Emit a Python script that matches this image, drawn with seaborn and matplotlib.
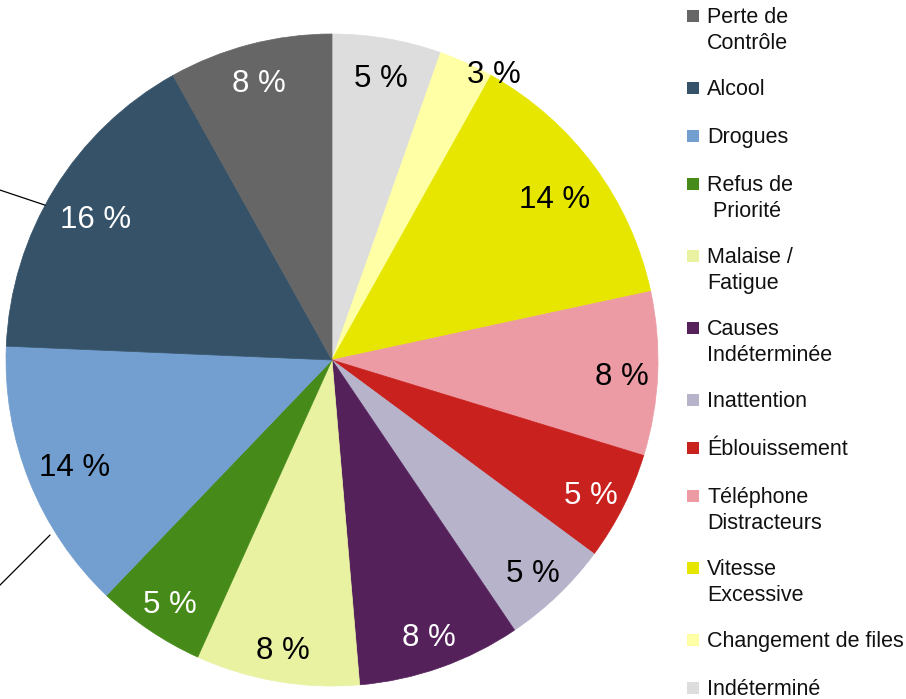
import matplotlib
matplotlib.use("Agg")
import matplotlib.pyplot as plt
from matplotlib.patches import Rectangle
import seaborn as sns
import numpy as np

sns.set_style("white")
plt.rcParams['font.family'] = ['Liberation Sans', 'DejaVu Sans']

# Data in clockwise order starting from 12 o'clock
categories = ["Indéterminé", "Changement de files", "Vitesse\nExcessive",
              "Téléphone\nDistracteurs", "Éblouissement", "Inattention",
              "Causes\nIndéterminée", "Malaise /\nFatigue", "Refus de\n Priorité",
              "Drogues", "Alcool", "Perte de\nContrôle"]
counts = [2, 1, 5, 3, 2, 2, 3, 3, 2, 5, 6, 3]
colors = ["#dddddd", "#ffffa6", "#e6e600", "#ec9ba4", "#c9211e", "#b7b3ca",
          "#55215b", "#e8f2a1", "#468a1a", "#729fcf", "#355269", "#666666"]
white_text = ["#c9211e", "#55215b", "#468a1a", "#355269", "#666666"]

W, H = 906, 699
fig = plt.figure(figsize=(W / 100, H / 100), dpi=100)
ax = fig.add_axes([6 / W, 13 / H, 652 / W, 652 / H])

wedges, texts, autotexts = ax.pie(
    counts, colors=colors, startangle=90, counterclock=False,
    autopct=lambda p: f"{p:.0f} %", pctdistance=0.87,
    wedgeprops=dict(linewidth=0, antialiased=True),
    textprops=dict(fontsize=22.5))
ax.set_xlim(-1, 1)
ax.set_ylim(-1, 1)
ax.set_aspect('equal')
ax.axis('off')

dy = -0.015
for i, (w, t, c) in enumerate(zip(wedges, autotexts, colors)):
    w.set_edgecolor(c)
    w.set_linewidth(0.5)
    t.set_color("white" if c in white_text else "black")
    if i == 1:
        # small slice: label pushed outward onto its clockwise boundary
        ang = np.deg2rad(min(w.theta1, w.theta2))
        r = 1.02
    else:
        ang = np.deg2rad((w.theta1 + w.theta2) / 2)
        r = 0.85 if len(t.get_text()) > 3 else 0.89
    t.set_position((r * np.cos(ang), r * np.sin(ang) + dy))

# leader lines at the left edge
ax.plot([-0.88, -1.2], [0.475, 0.582], color="black", lw=0.9, clip_on=False)
ax.plot([-0.865, -1.2], [-0.537, -0.872], color="black", lw=0.9, clip_on=False)

# legend (reverse order)
y = 16
for lab, col in zip(categories[::-1], colors[::-1]):
    n = lab.count("\n") + 1
    fig.add_artist(Rectangle((687 / W, 1 - (y + 6) / H), 12 / W, 12 / H,
                             transform=fig.transFigure, facecolor=col,
                             edgecolor="none"))
    fig.text(707 / W, 1 - (y - 9) / H, lab, va="top", ha="left",
             fontsize=15.5, linespacing=1.29, color="#111111")
    y += n * 24 + 24

fig.savefig("out.png", dpi=100)
